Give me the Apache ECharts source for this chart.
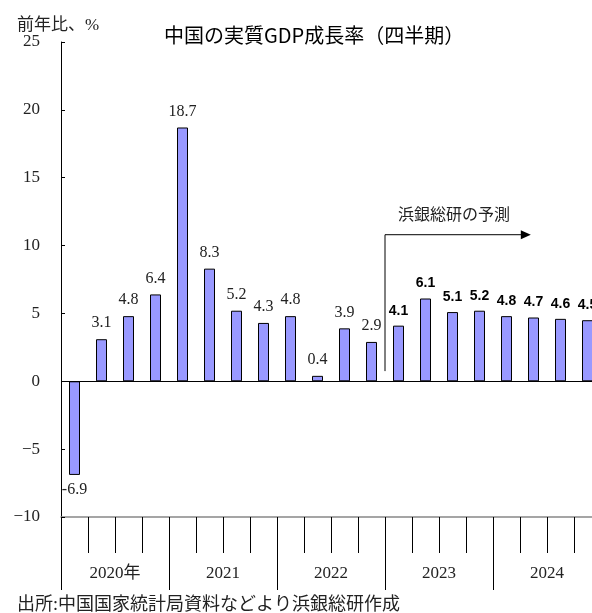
<!DOCTYPE html>
<html>
<head>
<meta charset="utf-8">
<script src="https://cdn.jsdelivr.net/npm/echarts@6/dist/echarts.min.js"></script>
<style>
html, body { margin: 0; padding: 0; background: #fff; overflow: hidden; }
#main { width: 601px; height: 613px; }
</style>
</head>
<body>
<div id="main"></div>
<script>
// 四半期（2020Q1〜2024Q4）
const quarters = ['2020Q1','2020Q2','2020Q3','2020Q4','2021Q1','2021Q2','2021Q3','2021Q4',
  '2022Q1','2022Q2','2022Q3','2022Q4','2023Q1','2023Q2','2023Q3','2023Q4',
  '2024Q1','2024Q2','2024Q3','2024Q4'];
const years = ['2020年', '2021', '2022', '2023', '2024'];
// 実績
const actual = [-6.9, 3.1, 4.8, 6.4, 18.7, 8.3, 5.2, 4.3, 4.8, 0.4, 3.9, 2.9,
  null, null, null, null, null, null, null, null];
// 浜銀総研の予測
const forecast = [null, null, null, null, null, null, null, null, null, null, null, null,
  4.1, 6.1, 5.1, 5.2, 4.8, 4.7, 4.6, 4.5];
const yTicks = [-10, 25, 5]; // min, max, interval

const serif = '"Liberation Serif", "Noto Sans CJK JP", serif';
// 右端のバーが少し切れるように、描画領域はウィンドウより広め
const chart = echarts.init(document.getElementById('main'));

const option = {
  animation: false,
  title: [
    {
      text: '中国の実質GDP成長率（四半期）',
      left: 159, top: 20,
      textStyle: { fontFamily: '"Noto Sans CJK JP", sans-serif', fontSize: 20, fontWeight: 'normal', color: '#000' }
    },
    {
      text: '前年比、%',
      left: 12, top: 12,
      textStyle: { fontFamily: serif, fontSize: 17, fontWeight: 'normal', color: '#222' }
    },
    {
      text: '出所:中国国家統計局資料などより浜銀総研作成',
      left: 12, top: 591,
      textStyle: { fontFamily: serif, fontSize: 18, fontWeight: 'normal', color: '#222' }
    }
  ],
  grid: { left: 61, right: 0, top: 42, bottom: 96 },
  xAxis: [
    {
      type: 'category',
      data: quarters,
      position: 'bottom',
      axisLine: { onZero: false, lineStyle: { color: '#888', width: 1.5 } },
      axisTick: { show: true, interval: 0, length: 36, lineStyle: { color: '#000' } },
      axisLabel: { show: false }
    },
    {
      type: 'category',
      data: years,
      position: 'bottom',
      axisLine: { show: false, onZero: false },
      axisTick: { show: true, interval: 0, length: 73, lineStyle: { color: '#000' } },
      axisLabel: { interval: 0, margin: 48, fontFamily: serif, fontSize: 17, color: '#222' }
    }
  ],
  yAxis: {
    type: 'value',
    min: yTicks[0], max: yTicks[1], interval: yTicks[2],
    axisLine: { show: true, lineStyle: { color: '#000' } },
    axisTick: { show: true, inside: true, length: 4, lineStyle: { color: '#000' } },
    splitLine: { show: false },
    axisLabel: {
      margin: 21, fontFamily: serif, fontSize: 17, color: '#222',
      formatter: v => (v < 0 ? '−' + Math.abs(v) : String(v))
    }
  },
  series: [
    {
      name: '実績',
      type: 'bar',
      data: actual,
      barWidth: 11,
      barGap: '-100%',
      itemStyle: { color: '#9999ff', borderColor: '#000', borderWidth: 1 },
      label: {
        show: true, position: 'top', distance: 8,
        fontFamily: serif, fontSize: 16, color: '#222'
      },
      markLine: {
        silent: true, symbol: 'none', label: { show: false },
        lineStyle: { color: '#000', width: 1, type: 'solid' },
        data: [{ yAxis: 0 }]
      }
    },
    {
      name: '予測',
      type: 'bar',
      data: forecast,
      barWidth: 11,
      barGap: '-100%',
      itemStyle: { color: '#9999ff', borderColor: '#000', borderWidth: 1 },
      label: {
        show: true, position: 'top', distance: 8,
        fontFamily: '"Liberation Sans", Arial, sans-serif', fontSize: 14, fontWeight: 'bold', color: '#000'
      }
    }
  ]
};
// 負の値はバーの下にラベル
option.series[0].data = actual.map(v => (v !== null && v < 0)
  ? { value: v, label: { position: 'bottom', distance: 7 } } : v);

chart.setOption(option);

// 予測の矢印（データ座標から位置を計算）
const xA = chart.convertToPixel({ xAxisIndex: 0 }, quarters[11]);
const xB = chart.convertToPixel({ xAxisIndex: 0 }, quarters[12]);
const xStart = (xA + xB) / 2;
const step = xB - xA;
const xEnd = xStart + step * 5.4;
const yLow = chart.convertToPixel({ yAxisIndex: 0 }, 0.75);
const yHigh = chart.convertToPixel({ yAxisIndex: 0 }, 10.8);
const yText = chart.convertToPixel({ yAxisIndex: 0 }, 12.2);

chart.setOption({
  graphic: [
    {
      type: 'polyline',
      shape: { points: [[xStart, yLow], [xStart, yHigh], [xEnd - 8, yHigh]] },
      style: { stroke: '#000', lineWidth: 1, fill: null }
    },
    {
      type: 'polygon',
      shape: { points: [[xEnd - 10, yHigh - 4.5], [xEnd, yHigh], [xEnd - 10, yHigh + 4.5]] },
      style: { fill: '#000' }
    },
    {
      type: 'text',
      x: xStart + 13, y: yText,
      style: {
        text: '浜銀総研の予測', fontFamily: serif, fontSize: 16, fill: '#222',
        verticalAlign: 'middle'
      }
    }
  ]
});
</script>
</body>
</html>
